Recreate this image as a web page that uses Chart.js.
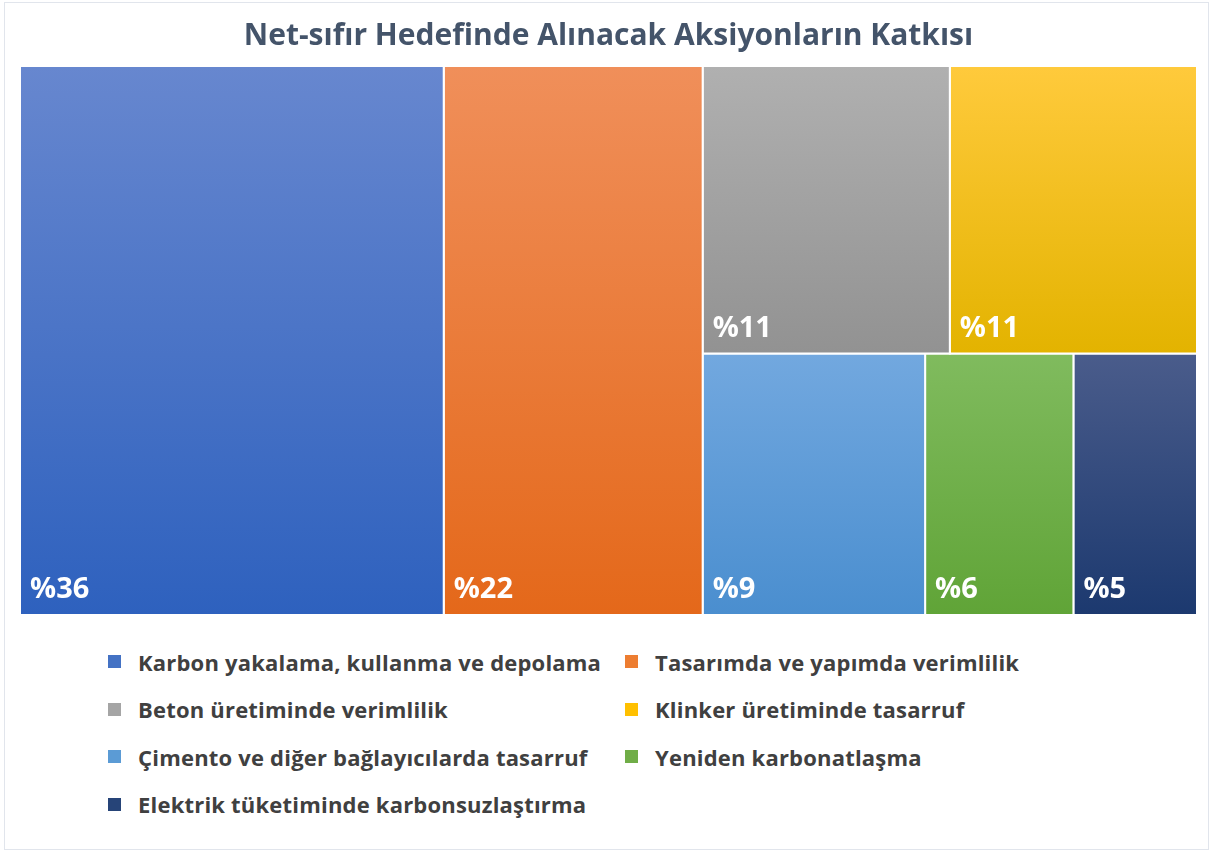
<!DOCTYPE html>
<html lang="tr">
<head>
<meta charset="utf-8">
<title>Net-sıfır Hedefinde Alınacak Aksiyonların Katkısı</title>
<script src="https://cdn.jsdelivr.net/npm/chart.js@4.4.1/dist/chart.umd.min.js"></script>
<style>
    html, body { margin: 0; padding: 0; background: #fff; }
    #sayfa {
        position: relative;
        width: 1211px;
        height: 852px;
        overflow: hidden;
        font-family: "Open Sans", "Noto Sans", sans-serif;
    }
    #cerceve {
        position: absolute;
        left: 4px; top: 2px; right: 2px; bottom: 2px;
        border: 1px solid #e1e5ec;
    }
    #grafik-kutu {
        position: absolute;
        left: 0; top: 0;
        width: 1211px;
        height: 630px;
    }
    #lejant {
        position: absolute;
        left: 108px;
        top: 638px;
        display: grid;
        grid-template-columns: 517px auto;
        grid-auto-rows: 47.5px;
        color: #404040;
        font-size: 22px;
        font-weight: 700;
        letter-spacing: 0.2px;
    }
    .oge { display: flex; align-items: center; white-space: nowrap; }
    .kare { width: 13px; height: 13px; margin-right: 17px; flex: none; }
</style>
</head>
<body>
<div id="sayfa">
    <div id="cerceve"></div>
    <div id="grafik-kutu"><canvas id="grafik-katki"></canvas></div>
    <div id="lejant"></div>
</div>
<script>
'use strict';

const baslik = 'Net-sıfır Hedefinde Alınacak Aksiyonların Katkısı';

const aksiyonlar = [
    'Karbon yakalama, kullanma ve depolama',
    'Tasarımda ve yapımda verimlilik',
    'Beton üretiminde verimlilik',
    'Klinker üretiminde tasarruf',
    'Çimento ve diğer bağlayıcılarda tasarruf',
    'Yeniden karbonatlaşma',
    'Elektrik tüketiminde karbonsuzlaştırma'
];

const katkilar = [36, 22, 11, 11, 9, 6, 5];

// üst ve alt renk (dikey geçiş)
const renklerUst = ['#6787cf', '#f08f5a', '#b0b0b0', '#ffca3c', '#72a8df', '#80bb5e', '#4a5c8b'];
const renklerAlt = ['#2e61be', '#e4681a', '#929292', '#e3b300', '#4a8ecf', '#60a437', '#1c396f'];
const renklerLejant = ['#4472c4', '#ed7d31', '#a5a5a5', '#ffc000', '#5b9bd5', '#70ad47', '#264478'];

// alanın en/boy oranı
const ALAN_G = 215.2;
const ALAN_Y = 100;

/**
 * Bir satırın en kötü en/boy oranı.
 */
function enKotu(satir, kenar) {
    const toplam = satir.reduce((a, b) => a + b, 0);
    const enBuyuk = Math.max(...satir);
    const enKucuk = Math.min(...satir);
    return Math.max(kenar * kenar * enBuyuk / (toplam * toplam), toplam * toplam / (kenar * kenar * enKucuk));
}

/**
 * Squarified treemap yerleşimi.
 */
function yerlesim(degerler, x, y, w, h) {
    const toplamDeger = degerler.reduce((a, b) => a + b, 0);
    let kalan = degerler.map(v => v / toplamDeger * w * h);
    const sonuc = [];

    while (kalan.length) {
        const kenar = Math.min(w, h);
        const satir = [kalan[0]];
        let i = 1;
        while (i < kalan.length && enKotu([...satir, kalan[i]], kenar) <= enKotu(satir, kenar)) {
            satir.push(kalan[i]);
            i++;
        }
        kalan = kalan.slice(i);
        const toplam = satir.reduce((a, b) => a + b, 0);

        if (w >= h) {
            const sw = toplam / h;
            let yy = y;
            satir.forEach(a => {
                const sh = a / sw;
                sonuc.push({ x0: x, x1: x + sw, y0: yy, y1: yy + sh });
                yy += sh;
            });
            x += sw;
            w -= sw;
        } else {
            const sh = toplam / w;
            let xx = x;
            satir.forEach(a => {
                const sw2 = a / sh;
                sonuc.push({ x0: xx, x1: xx + sw2, y0: y, y1: y + sh });
                xx += sw2;
            });
            y += sh;
            h -= sh;
        }
    }
    return sonuc;
}

const kutular = yerlesim(katkilar, 0, 0, ALAN_G, ALAN_Y);

function gecis(context, i) {
    const chart = context.chart;
    const ySkala = chart.scales.y;
    if (!chart.chartArea || !ySkala) {
        return renklerLejant[i];
    }
    const ust = ySkala.getPixelForValue(kutular[i].y0);
    const alt = ySkala.getPixelForValue(kutular[i].y1);
    const g = chart.ctx.createLinearGradient(0, ust, 0, alt);
    g.addColorStop(0, renklerUst[i]);
    g.addColorStop(1, renklerAlt[i]);
    return g;
}

const datasets = aksiyonlar.map((ad, i) => {
    const r = kutular[i];
    return {
        label: ad,
        data: [
            { x: r.x0, y: r.y0 },
            { x: r.x1, y: r.y0 },
            { x: r.x1, y: r.y1 },
            { x: r.x0, y: r.y1 },
            { x: r.x0, y: r.y0 }
        ],
        showLine: true,
        fill: 'shape',
        tension: 0,
        pointRadius: 0,
        pointHoverRadius: 0,
        borderColor: '#ffffff',
        borderWidth: 2,
        backgroundColor: ctx => gecis(ctx, i)
    };
});

const etiketEklentisi = {
    id: 'etiketler',
    afterDatasetsDraw(chart) {
        const { ctx, scales } = chart;
        ctx.save();
        ctx.fillStyle = '#ffffff';
        ctx.font = 'bold 29px "Open Sans", "Noto Sans", sans-serif';
        ctx.textBaseline = 'middle';
        ctx.textAlign = 'left';
        kutular.forEach((r, i) => {
            const px = scales.x.getPixelForValue(r.x0) + 10;
            const py = scales.y.getPixelForValue(r.y1) - 25;
            ctx.fillText('%' + katkilar[i], px, py);
        });
        ctx.restore();
    }
};

const grafik = new Chart(document.getElementById('grafik-katki'), {
    type: 'scatter',
    data: { datasets: datasets },
    options: {
        responsive: true,
        maintainAspectRatio: false,
        animation: false,
        layout: { padding: { left: 20, right: 14, top: 4, bottom: 15 } },
        scales: {
            x: { type: 'linear', min: 0, max: ALAN_G, display: false },
            y: { type: 'linear', min: 0, max: ALAN_Y, reverse: true, display: false }
        },
        plugins: {
            legend: { display: false },
            tooltip: { enabled: false },
            title: {
                display: true,
                text: baslik,
                color: '#44546a',
                font: { family: '"Open Sans", "Noto Sans", sans-serif', size: 30, weight: 'bold' },
                padding: { top: 14, bottom: 12 }
            }
        }
    },
    plugins: [etiketEklentisi]
});

// lejant
const lejant = document.getElementById('lejant');
grafik.data.datasets.forEach((ds, i) => {
    const oge = document.createElement('div');
    oge.className = 'oge';
    const kare = document.createElement('span');
    kare.className = 'kare';
    kare.style.background = renklerLejant[i];
    const yazi = document.createElement('span');
    yazi.textContent = ds.label;
    oge.appendChild(kare);
    oge.appendChild(yazi);
    lejant.appendChild(oge);
});
</script>
</body>
</html>
